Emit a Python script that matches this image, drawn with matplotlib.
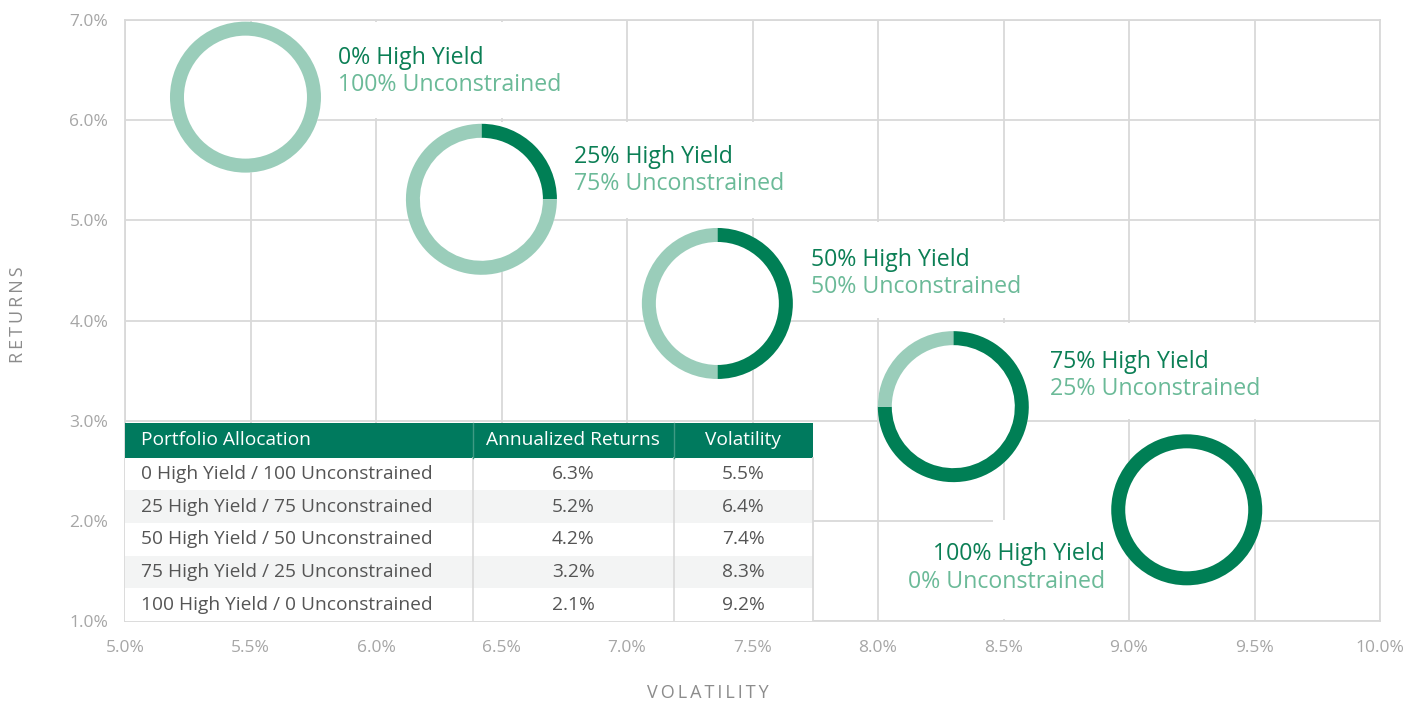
import matplotlib
matplotlib.use("Agg")
import matplotlib.pyplot as plt
from matplotlib.patches import Wedge, Circle, Rectangle
from matplotlib.transforms import ScaledTranslation

plt.rcParams['font.family'] = ['Open Sans', 'DejaVu Sans']

# data
allocations = ["0 High Yield / 100 Unconstrained",
               "25 High Yield / 75 Unconstrained",
               "50 High Yield / 50 Unconstrained",
               "75 High Yield / 25 Unconstrained",
               "100 High Yield / 0 Unconstrained"]
hy_share = [0, 25, 50, 75, 100]
ann_returns = [6.3, 5.2, 4.2, 3.2, 2.1]
volatility = [5.5, 6.4, 7.4, 8.3, 9.2]
# where the donuts sit on the chart
donut_vol = [5.48, 6.42, 7.36, 8.30, 9.23]
donut_ret = [6.23, 5.21, 4.17, 3.14, 2.11]
table_header = ["Portfolio Allocation", "Annualized Returns", "Volatility"]
xticks = [5.0, 5.5, 6.0, 6.5, 7.0, 7.5, 8.0, 8.5, 9.0, 9.5, 10.0]
yticks = [1.0, 2.0, 3.0, 4.0, 5.0, 6.0, 7.0]

DARK = "#007F55"
LIGHT = "#9ACDBA"
DARK_TXT = "#0B7F55"
LIGHT_TXT = "#6BBA98"
HEAD = "#007A5E"
GRID = "#D9D9D9"

fig = plt.figure(figsize=(14.17, 7.06), dpi=100)
ax = fig.add_axes([125/1417, 1-621/706, 1255/1417, 601/706])
ax.set_xlim(5, 10)
ax.set_ylim(1, 7)
ax.set_xticks(xticks)
ax.set_yticks(yticks)
ax.set_xticklabels([f"{t:.1f}%" for t in xticks])
ax.set_yticklabels([f"{t:.1f}%" for t in yticks])
ax.tick_params(length=0, colors="#A6A6A6", labelsize=12.5)
ax.tick_params(axis='y', pad=12)
ax.tick_params(axis='x', pad=14)
ax.grid(True, color=GRID, lw=1.3)
ax.set_axisbelow(True)
for s in ax.spines.values():
    s.set_color(GRID)
    s.set_linewidth(1.3)

# white panels behind each donut group (they hide parts of the grid)
panels = [(5.52, 6.02, 1.38, 0.96), (6.05, 5.02, 1.85, 0.96),
          (7.55, 4.02, 1.40, 0.96), (8.05, 3.02, 1.90, 0.96),
          (8.46, 1.02, 0.48, 0.99)]
for (px, py, pw, ph) in panels:
    ax.add_patch(Rectangle((px, py), pw, ph, fc="white", ec="none", zorder=1))

# donuts
label_off = [(93, 33, 6, 'left'), (93, 36, 9, 'left'), (94, 37, 10, 'left'),
             (97, 39, 12, 'left'), (-82, -50, -78, 'right')]
for i in range(len(hy_share)):
    trans = fig.dpi_scale_trans + ScaledTranslation(donut_vol[i], donut_ret[i], ax.transData)
    ax.add_patch(Circle((0, 0), 0.755, fc="white", ec="none", transform=trans, zorder=3))
    p = hy_share[i] / 100
    if p > 0:
        ax.add_patch(Wedge((0, 0), 0.755, 90 - 360*p, 90, width=0.14, fc=DARK,
                           ec="none", transform=trans, zorder=4))
    if p < 1:
        ax.add_patch(Wedge((0, 0), 0.755, 90, 450 - 360*p, width=0.14, fc=LIGHT,
                           ec="none", transform=trans, zorder=4))
    dx, dy1, dy2, ha = label_off[i]
    ax.annotate(f"{hy_share[i]}% High Yield", (donut_vol[i], donut_ret[i]),
                xytext=(dx, dy1), textcoords='offset pixels', ha=ha, va='baseline',
                fontsize=16.7, color=DARK_TXT, zorder=5)
    ax.annotate(f"{100 - hy_share[i]}% Unconstrained", (donut_vol[i], donut_ret[i]),
                xytext=(dx, dy2), textcoords='offset pixels', ha=ha, va='baseline',
                fontsize=16.7, color=LIGHT_TXT, zorder=5)

# table drawn inside the plot area
col_x = [5.0, 6.386, 7.187, 7.741]
top, head_h, row_h = 2.98, 0.35, 0.326
fs_tbl = 13.8
ax.add_patch(Rectangle((col_x[0], top - head_h), col_x[3] - col_x[0], head_h,
                       fc=HEAD, ec="none", zorder=6))
for j, h in enumerate(table_header):
    if j == 0:
        ax.text(col_x[0] + 0.065, top - head_h/2, h, ha='left', va='center',
                color="white", fontsize=fs_tbl, zorder=7)
    else:
        ax.text((col_x[j] + col_x[j+1]) / 2, top - head_h/2, h, ha='center',
                va='center', color="white", fontsize=fs_tbl, zorder=7)
for i in range(len(allocations)):
    y0 = top - head_h - (i + 1) * row_h
    fc = "#F3F4F4" if i % 2 == 1 else "white"
    ax.add_patch(Rectangle((col_x[0], y0), col_x[3] - col_x[0], row_h,
                           fc=fc, ec="none", zorder=6))
    yc = y0 + row_h / 2
    ax.text(col_x[0] + 0.065, yc, allocations[i], ha='left', va='center',
            color="#555555", fontsize=fs_tbl, zorder=7)
    ax.text((col_x[1] + col_x[2]) / 2, yc, f"{ann_returns[i]:.1f}%", ha='center',
            va='center', color="#555555", fontsize=fs_tbl, zorder=7)
    ax.text((col_x[2] + col_x[3]) / 2, yc, f"{volatility[i]:.1f}%", ha='center',
            va='center', color="#555555", fontsize=fs_tbl, zorder=7)
tbl_bottom = 1.0
for cx in col_x[1:3]:
    ax.plot([cx, cx], [tbl_bottom, top - head_h], color=GRID, lw=1.2, zorder=7)
    ax.plot([cx, cx], [top - head_h, top], color="#3F9A84", lw=1.0, zorder=7)
ax.plot([col_x[3], col_x[3]], [tbl_bottom, top - head_h], color=GRID, lw=1.3, zorder=7)

# axis titles
ax.set_xlabel("V O L A T I L I T Y".replace(" ", "\u2009"), fontsize=13,
              color="#8C8C8C", va='center')
ax.xaxis.set_label_coords((708 - 125) / 1255, -(693 - 621) / 601)
ax.set_ylabel("R E T U R N S".replace(" ", "\u2009"), fontsize=13,
              color="#8C8C8C", va='center')
ax.yaxis.set_label_coords(-(125 - 18) / 1255, (621 - 315) / 601)

fig.savefig("out.png", dpi=100, facecolor="white")
